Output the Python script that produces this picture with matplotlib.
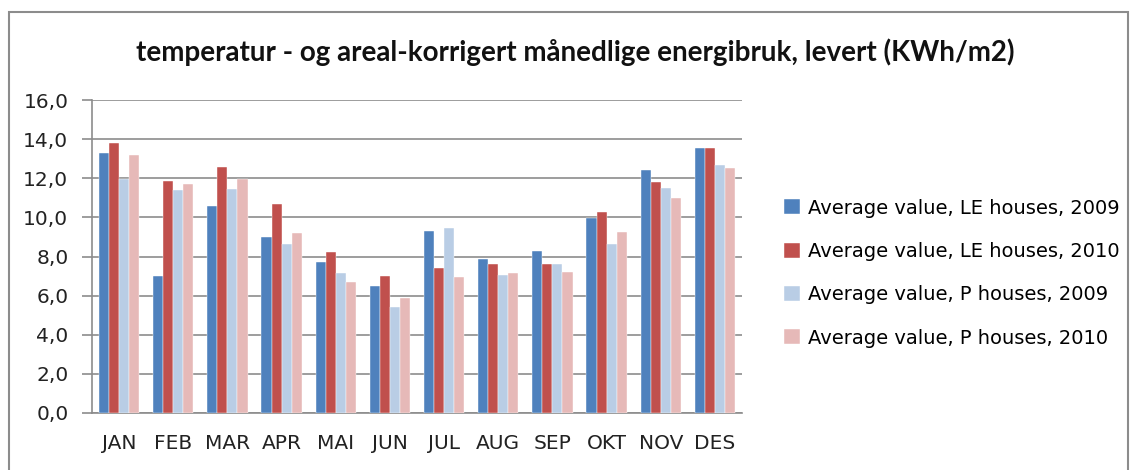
import matplotlib
matplotlib.use("Agg")
import matplotlib.pyplot as plt
import numpy as np
from matplotlib.patches import Rectangle

months = ["JAN", "FEB", "MAR", "APR", "MAI", "JUN", "JUL", "AUG", "SEP", "OKT", "NOV", "DES"]
le_2009 = [13.3, 7.0, 10.6, 9.0, 7.7, 6.5, 9.3, 7.85, 8.3, 9.95, 12.4, 13.55]
le_2010 = [13.8, 11.85, 12.6, 10.7, 8.25, 7.0, 7.4, 7.6, 7.6, 10.3, 11.8, 13.55]
p_2009 = [11.95, 11.4, 11.45, 8.65, 7.15, 5.4, 9.45, 7.05, 7.6, 8.65, 11.5, 12.7]
p_2010 = [13.2, 11.7, 11.95, 9.2, 6.7, 5.9, 6.95, 7.15, 7.2, 9.25, 11.0, 12.5]
series_labels = ["Average value, LE houses, 2009", "Average value, LE houses, 2010",
                 "Average value, P houses, 2009", "Average value, P houses, 2010"]
colors = ["#4F81BD", "#C0504D", "#B9CDE5", "#E6B9B8"]
title = "temperatur - og areal-korrigert månedlige energibruk, levert (KWh/m2)"

fig = plt.figure(figsize=(11.31, 4.70), dpi=100)
ax = fig.add_axes([92 / 1131, 57 / 470, 650 / 1131, 313 / 470])

x = np.arange(len(months))
w = 0.186
data = [le_2009, le_2010, p_2009, p_2010]
for i, (vals, c, lab) in enumerate(zip(data, colors, series_labels)):
    ax.bar(x + (i - 1.5) * w, vals, width=w, color=c, label=lab, zorder=3,
           edgecolor="white", linewidth=0.3)

ax.set_xlim(-0.5, 11.5)
ax.set_ylim(0, 16)
ax.set_yticks(np.arange(0, 17, 2))
ax.set_yticklabels([f"{v:.1f}".replace(".", ",") for v in np.arange(0, 17, 2)],
                   fontsize=14.5, family="DejaVu Sans", color="#222222")
ax.set_xticks(x)
ax.set_xticklabels(months, fontsize=14.5, family="DejaVu Sans", color="#222222")
ax.grid(axis="y", color="#8c8c8c", linewidth=1.2, zorder=0)
for s in ["top", "right"]:
    ax.spines[s].set_visible(False)
ax.spines["left"].set_color("#8c8c8c")
ax.spines["bottom"].set_color("#8c8c8c")
ax.spines["left"].set_linewidth(1.2)
ax.spines["bottom"].set_linewidth(1.2)
ax.tick_params(axis="y", length=7, width=1.2, color="#8c8c8c", pad=10)
ax.tick_params(axis="x", length=0, pad=15)

fig.text(0.509, 0.889, title, ha="center", va="center", fontsize=20,
         fontweight="bold", family="Lato", color="#111111")

handles, labels = ax.get_legend_handles_labels()
leg = fig.legend(handles, labels, loc="center left", bbox_to_anchor=(0.678, 0.419),
                 frameon=False, handlelength=0.8, handleheight=0.8,
                 handletextpad=0.4, labelspacing=1.25, prop={"family": "DejaVu Sans", "size": 14})

fig.patches.append(Rectangle((9 / 1131, -0.05), 1119 / 1131, 1.05 - 12 / 470, transform=fig.transFigure,
                             fill=False, edgecolor="#8c8c8c", linewidth=1.5))

fig.savefig("out.png", dpi=100)
